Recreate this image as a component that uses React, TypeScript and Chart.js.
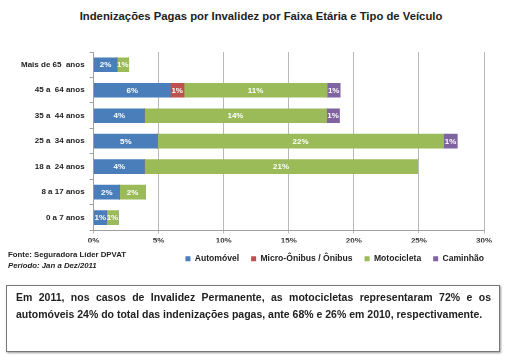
import React, { useEffect, useRef } from "react";
import { Chart, registerables } from "chart.js";

Chart.register(...registerables);

const categories = [
  "Mais de 65  anos",
  "45 a  64 anos",
  "35 a  44 anos",
  "25 a  34 anos",
  "18 a  24 anos",
  "8 a 17 anos",
  "0 a 7 anos",
];
const automovel = [1.8, 5.9, 3.9, 4.9, 3.9, 2.0, 1.0];
const microOnibus = [0, 1.05, 0, 0, 0, 0, 0];
const motocicleta = [0.9, 11.0, 14.0, 22.0, 21.0, 2.0, 0.9];
const caminhao = [0, 1.0, 1.0, 1.05, 0, 0, 0];
const xTicks = [0, 5, 10, 15, 20, 25, 30];

const FONT = "'Liberation Sans', Arial, sans-serif";

const valueLabels = {
  id: "valueLabels",
  afterDatasetsDraw(chart: any) {
    const ctx = chart.ctx;
    ctx.save();
    ctx.font = `bold 8px ${FONT}`;
    ctx.fillStyle = "#ffffff";
    ctx.textAlign = "center";
    ctx.textBaseline = "middle";
    chart.data.datasets.forEach((ds: any, di: number) => {
      const meta = chart.getDatasetMeta(di);
      meta.data.forEach((el: any, i: number) => {
        const v = ds.data[i];
        if (v < 0.5) return;
        const cx = (el.x + el.base) / 2;
        ctx.fillText(Math.round(v) + "%", cx, el.y + 0.5);
      });
    });
    ctx.restore();
  },
};

// gives the right-aligned legend row a little slack so the last item is not wrapped by float rounding
const legendSlack = {
  id: "legendSlack",
  afterLayout(chart: any) {
    const lg = chart.legend;
    if (lg && Array.isArray(lg.lineWidths)) {
      lg.lineWidths = lg.lineWidths.map((w: number) => w + 1);
    }
  },
};

export default function App() {
  const ref = useRef<HTMLCanvasElement>(null);
  useEffect(() => {
    if (!ref.current) return;
    const chart = new Chart(ref.current, {
      type: "bar",
      data: {
        labels: categories,
        datasets: [
          { label: "Automóvel", data: automovel, backgroundColor: "#4a7ebb", borderWidth: 0 },
          { label: "Micro-Ônibus / Ônibus", data: microOnibus, backgroundColor: "#c0504d", borderWidth: 0 },
          { label: "Motocicleta", data: motocicleta, backgroundColor: "#9bbb59", borderWidth: 0 },
          { label: "Caminhão", data: caminhao, backgroundColor: "#8064a2", borderWidth: 0 },
        ],
      },
      options: {
        indexAxis: "y",
        animation: false,
        responsive: false,
        maintainAspectRatio: false,
        datasets: { bar: { barThickness: 14 } },
        layout: { padding: { left: 16, right: 9, top: 52, bottom: 87 } },
        scales: {
          x: {
            stacked: true,
            min: 0,
            max: 30,
            afterFit: (s: any) => {
              s.height = 12;
              s.paddingRight = 22;
            },
            ticks: {
              stepSize: 5,
              callback: (v: any) => (xTicks.includes(Number(v)) ? v + "%" : ""),
              font: { family: FONT, size: 8, weight: "bold" },
              color: "#333",
              padding: 3,
            },
            grid: { color: "#b8b8b8", tickLength: 3 },
            border: { color: "#a0a0a0" },
          },
          y: {
            stacked: true,
            ticks: { font: { family: FONT, size: 8, weight: "bold" }, color: "#222", padding: 5 },
            grid: { offset: true, drawOnChartArea: false, tickLength: 4, color: "#a0a0a0" },
            border: { color: "#a0a0a0" },
          },
        },
        plugins: {
          title: { display: false },
          legend: {
            position: "bottom",
            align: "end",
            labels: {
              boxWidth: 5,
              boxHeight: 5,
              font: { family: FONT, size: 8.6, weight: "bold" },
              color: "#222",
              padding: 12,
            },
          },
          tooltip: { enabled: false },
        },
      },
      plugins: [valueLabels, legendSlack],
    });
    return () => chart.destroy();
  }, []);

  return (
    <div style={{ position: "fixed", left: 0, top: 0, width: 506, height: 360, background: "#fff", fontFamily: FONT }}>
      <div
        style={{
          position: "absolute",
          left: 61,
          width: 400,
          top: 9,
          textAlign: "center",
          fontSize: 11.3,
          fontWeight: "bold",
          color: "#222",
          lineHeight: "14px",
          whiteSpace: "nowrap",
        }}
      >
        Indenizações Pagas por Invalidez por Faixa Etária e Tipo de Veículo
      </div>
      <canvas ref={ref} width={506} height={360} style={{ position: "absolute", left: 0, top: 0 }} />
      <div style={{ position: "absolute", left: 8, top: 249, fontSize: 7.8, fontWeight: "bold", color: "#222", lineHeight: "11px" }}>
        <div>Fonte: Seguradora Líder DPVAT</div>
        <div style={{ fontStyle: "italic" }}>Período: Jan a Dez/2011</div>
      </div>
      <div
        style={{
          position: "absolute",
          left: 6,
          top: 285,
          width: 494,
          height: 67,
          boxSizing: "border-box",
          border: "1px solid #777",
          boxShadow: "1px 1px 2px #999",
          padding: "3px 8px 0 9px",
          fontSize: 10.5,
          fontWeight: "bold",
          color: "#222",
          lineHeight: "17px",
        }}
      >
        <div style={{ textAlign: "justify", textAlignLast: "justify" }}>
          Em 2011, nos casos de Invalidez Permanente, as motocicletas representaram 72% e os
        </div>
        <div style={{ whiteSpace: "nowrap" }}>
          automóveis 24% do total das indenizações pagas, ante 68% e 26% em 2010, respectivamente.
        </div>
      </div>
    </div>
  );
}
